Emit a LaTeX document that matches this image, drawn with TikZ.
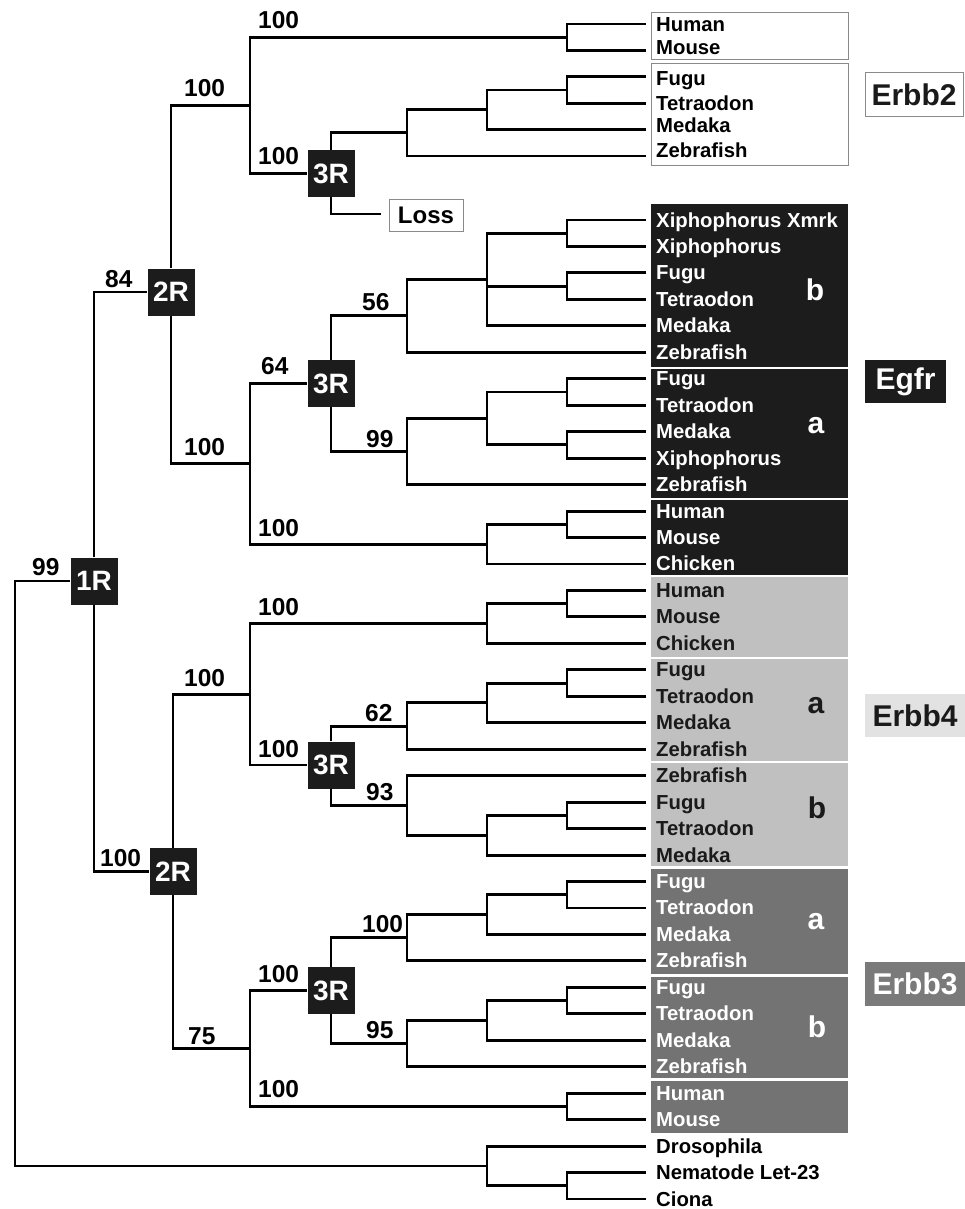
\documentclass[tikz,border=0pt]{standalone}
\usepackage{fontspec}
\setmainfont{Liberation Sans}
\definecolor{dk}{HTML}{1C1C1C}
\definecolor{lg}{HTML}{C0C0C0}
\definecolor{lglab}{HTML}{E2E2E2}
\definecolor{mg}{HTML}{737373}
\definecolor{mglab}{HTML}{7A7A7A}
\definecolor{bd}{HTML}{8A8A8A}
\definecolor{tx}{HTML}{1A1A1A}
\begin{document}
\begin{tikzpicture}[x=1pt,y=-1pt,
  br/.style={line width=2.9pt,black},
  sp/.style={font=\fontsize{20.3}{22}\selectfont\bfseries,anchor=base west,inner sep=0pt},
  bs/.style={font=\fontsize{24.5}{26}\selectfont\bfseries,anchor=base west,inner sep=0pt},
  dup/.style={fill=dk,text=white,minimum width=47pt,minimum height=47pt,inner sep=0pt,font=\fontsize{28}{30}\selectfont\bfseries},
  sub/.style={font=\fontsize{30}{32}\selectfont\bfseries,anchor=base,inner sep=0pt},
  grp/.style={font=\fontsize{30}{32}\selectfont\bfseries,inner sep=0pt},
]
\useasboundingbox[fill=white] (0,0) rectangle (965,1209);

% ---- group backgrounds ----
\draw[bd,line width=1pt,fill=white] (651,13) rectangle (848,60);
\draw[bd,line width=1pt,fill=white] (651,64) rectangle (848,166);
\fill[dk] (651,204) rectangle (848,366.5);
\fill[dk] (651,368.5) rectangle (848,498);
\fill[dk] (651,500) rectangle (848,575);
\fill[lg] (651,577) rectangle (848,657);
\fill[lg] (651,659) rectangle (848,761);
\fill[lg] (651,763) rectangle (848,866);
\fill[mg] (651,869) rectangle (848,974);
\fill[mg] (651,977) rectangle (848,1078);
\fill[mg] (651,1081) rectangle (848,1133);

% ---- Erbb2 leaves ----
\foreach \k/\yy/\bb/\nm in {0/24/32/Human,1/50.4/55/Mouse,2/76.8/86/Fugu,3/103.2/111/Tetraodon,4/129.6/133/Medaka,5/156/158/Zebrafish}{
  \coordinate (h\k) at (646,\yy);
  \node[sp,text=black] (ht\k) at (656,\bb) {\nm};
}
% ---- other leaves ----
\foreach \k/\nm/\tc in {0/Xiphophorus Xmrk/white,1/Xiphophorus/white,2/Fugu/white,3/Tetraodon/white,4/Medaka/white,5/Zebrafish/white,
  6/Fugu/white,7/Tetraodon/white,8/Medaka/white,9/Xiphophorus/white,10/Zebrafish/white,
  11/Human/white,12/Mouse/white,13/Chicken/white,
  14/Human/tx,15/Mouse/tx,16/Chicken/tx,
  17/Fugu/tx,18/Tetraodon/tx,19/Medaka/tx,20/Zebrafish/tx,
  21/Zebrafish/tx,22/Fugu/tx,23/Tetraodon/tx,24/Medaka/tx,
  25/Fugu/white,26/Tetraodon/white,27/Medaka/white,28/Zebrafish/white,
  29/Fugu/white,30/Tetraodon/white,31/Medaka/white,32/Zebrafish/white,
  33/Human/white,34/Mouse/white,
  35/Drosophila/black,36/Nematode Let-23/black,37/Ciona/black}{
  \coordinate (e\k) at (646,220+26.46*\k);
  \node[sp,text=\tc] (t\k) at (656,227+26.46*\k) {\nm};
}

% ---- sub labels ----
\node[sub,text=white] (sEb) at (815,300) {b};
\node[sub,text=white] (sEa) at (816,433) {a};
\node[sub,text=tx] (s4a) at (816,713) {a};
\node[sub,text=tx] (s4b) at (817,818) {b};
\node[sub,text=white] (s3a) at (816,929) {a};
\node[sub,text=white] (s3b) at (817,1037) {b};

% ---- family labels ----
\node[grp,draw=bd,line width=1pt,fill=white,text=tx,minimum width=98pt,minimum height=44pt] (Lerbb2) at (914,95) {Erbb2};
\node[grp,fill=dk,text=white,minimum width=81pt,minimum height=43pt] (Legfr) at (905.5,381.5) {Egfr};
\node[grp,fill=lglab,text=tx,minimum width=100pt,minimum height=43pt] (Lerbb4) at (915,715.5) {Erbb4};
\node[grp,fill=mglab,text=white,minimum width=100pt,minimum height=44pt] (Lerbb3) at (915,984) {Erbb3};

% ---- internal coordinates ----
% Erbb2
\coordinate (a1) at (567,37.2);
\coordinate (a2) at (567,90);
\coordinate (a3) at (487,109.8);
\coordinate (a4) at (407,132.9);
\coordinate (a5) at (250,105.3);
\coordinate (lossend) at (381,214);
% Egfr
\coordinate (b1) at (567,233.2);
\coordinate (b2) at (567,286.2);
\coordinate (b3) at (487,279.5);
\coordinate (b4) at (407,315.9);
\coordinate (b5) at (567,392);
\coordinate (b6) at (567,444.9);
\coordinate (b7) at (487,418.5);
\coordinate (b8) at (407,451.5);
\coordinate (b9) at (567,524.3);
\coordinate (b10) at (487,544.1);
\coordinate (b11) at (250,463.9);
% Erbb4
\coordinate (c1) at (567,603.7);
\coordinate (c2) at (487,623.5);
\coordinate (c3) at (567,683.1);
\coordinate (c4) at (487,702.9);
\coordinate (c5) at (407,726.1);
\coordinate (c6) at (567,815.4);
\coordinate (c7) at (487,835.2);
\coordinate (c8) at (407,805.5);
\coordinate (c9) at (250,694.6);
% Erbb3
\coordinate (d1) at (567,894.7);
\coordinate (d2) at (487,914.6);
\coordinate (d3) at (407,937.7);
\coordinate (d4) at (567,1000.5);
\coordinate (d5) at (487,1020.4);
\coordinate (d6) at (407,1043.5);
\coordinate (d7) at (567,1106.4);
\coordinate (d8) at (250,1048.5);
% outgroup + root
\coordinate (o1) at (567,1185.8);
\coordinate (o2) at (487,1166);
\coordinate (root) at (15,874);

% ---- duplication boxes ----
\node[dup] (D1) at (331,173.5) {3R};
\node[dup] (D2) at (331,383.7) {3R};
\node[dup] (D3) at (331,765) {3R};
\node[dup] (D4) at (331,990.6) {3R};
\node[dup] (R2a) at (171,292) {2R};
\node[dup] (R2b) at (173,871.5) {2R};
\node[dup] (R1) at (94,581) {1R};
\node[draw=bd,line width=1pt,fill=white,minimum width=74pt,minimum height=32pt,inner sep=0pt,font=\fontsize{24}{26}\selectfont\bfseries] (loss) at (426,215) {Loss};

% ---- branches ----
\draw[br] (a1) |- (h0); \draw[br] (a1) |- (h1);
\draw[br] (a2) |- (h2); \draw[br] (a2) |- (h3);
\draw[br] (a3) |- (a2); \draw[br] (a3) |- (h4);
\draw[br] (a4) |- (a3); \draw[br] (a4) |- (h5);
\draw[br] (D1) |- (a4); \draw[br] (D1) |- (lossend);
\draw[br] (a5) |- (a1); \draw[br] (a5) |- (D1);

\draw[br] (b1) |- (e0); \draw[br] (b1) |- (e1);
\draw[br] (b2) |- (e2); \draw[br] (b2) |- (e3);
\draw[br] (b3) |- (b1); \draw[br] (b3) |- (b2); \draw[br] (b3) |- (e4);
\draw[br] (b4) |- (b3); \draw[br] (b4) |- (e5);
\draw[br] (b5) |- (e6); \draw[br] (b5) |- (e7);
\draw[br] (b6) |- (e8); \draw[br] (b6) |- (e9);
\draw[br] (b7) |- (b5); \draw[br] (b7) |- (b6);
\draw[br] (b8) |- (b7); \draw[br] (b8) |- (e10);
\draw[br] (D2) |- (b4); \draw[br] (D2) |- (b8);
\draw[br] (b9) |- (e11); \draw[br] (b9) |- (e12);
\draw[br] (b10) |- (b9); \draw[br] (b10) |- (e13);
\draw[br] (b11) |- (D2); \draw[br] (b11) |- (b10);
\draw[br] (R2a) |- (a5); \draw[br] (R2a) |- (b11);

\draw[br] (c1) |- (e14); \draw[br] (c1) |- (e15);
\draw[br] (c2) |- (c1); \draw[br] (c2) |- (e16);
\draw[br] (c3) |- (e17); \draw[br] (c3) |- (e18);
\draw[br] (c4) |- (c3); \draw[br] (c4) |- (e19);
\draw[br] (c5) |- (c4); \draw[br] (c5) |- (e20);
\draw[br] (c6) |- (e22); \draw[br] (c6) |- (e23);
\draw[br] (c7) |- (c6); \draw[br] (c7) |- (e24);
\draw[br] (c8) |- (e21); \draw[br] (c8) |- (c7);
\draw[br] (D3) |- (c5); \draw[br] (D3) |- (c8);
\draw[br] (c9) |- (c2); \draw[br] (c9) |- (D3);

\draw[br] (d1) |- (e25); \draw[br] (d1) |- (e26);
\draw[br] (d2) |- (d1); \draw[br] (d2) |- (e27);
\draw[br] (d3) |- (d2); \draw[br] (d3) |- (e28);
\draw[br] (d4) |- (e29); \draw[br] (d4) |- (e30);
\draw[br] (d5) |- (d4); \draw[br] (d5) |- (e31);
\draw[br] (d6) |- (d5); \draw[br] (d6) |- (e32);
\draw[br] (D4) |- (d3); \draw[br] (D4) |- (d6);
\draw[br] (d7) |- (e33); \draw[br] (d7) |- (e34);
\draw[br] (d8) |- (D4); \draw[br] (d8) |- (d7);
\draw[br] (R2b) |- (c9); \draw[br] (R2b) |- (d8);

\draw[br] (R1) |- (R2a); \draw[br] (R1) |- (R2b);
\draw[br] (o1) |- (e36); \draw[br] (o1) |- (e37);
\draw[br] (o2) |- (e35); \draw[br] (o2) |- (o1);
\draw[br] (root) |- (R1); \draw[br] (root) |- (o2);

% ---- bootstrap values ----
\node[bs] (v1) at (258,29) {100};
\node[bs] (v2) at (184,97) {100};
\node[bs] (v3) at (258,165) {100};
\node[bs] (v4) at (105,287) {84};
\node[bs] (v5) at (362,310) {56};
\node[bs] (v6) at (261,374) {64};
\node[bs] (v7) at (366,447) {99};
\node[bs] (v8) at (184,455) {100};
\node[bs] (v9) at (258,536) {100};
\node[bs] (v10) at (32,575) {99};
\node[bs] (v11) at (258,615) {100};
\node[bs] (v12) at (184,686) {100};
\node[bs] (v13) at (365,721) {62};
\node[bs] (v14) at (258,757) {100};
\node[bs] (v15) at (366,800) {93};
\node[bs] (v16) at (100,866) {100};
\node[bs] (v17) at (362,932) {100};
\node[bs] (v18) at (258,982) {100};
\node[bs] (v19) at (188,1044) {75};
\node[bs] (v20) at (366,1038) {95};
\node[bs] (v21) at (258,1097) {100};
\end{tikzpicture}
\end{document}
